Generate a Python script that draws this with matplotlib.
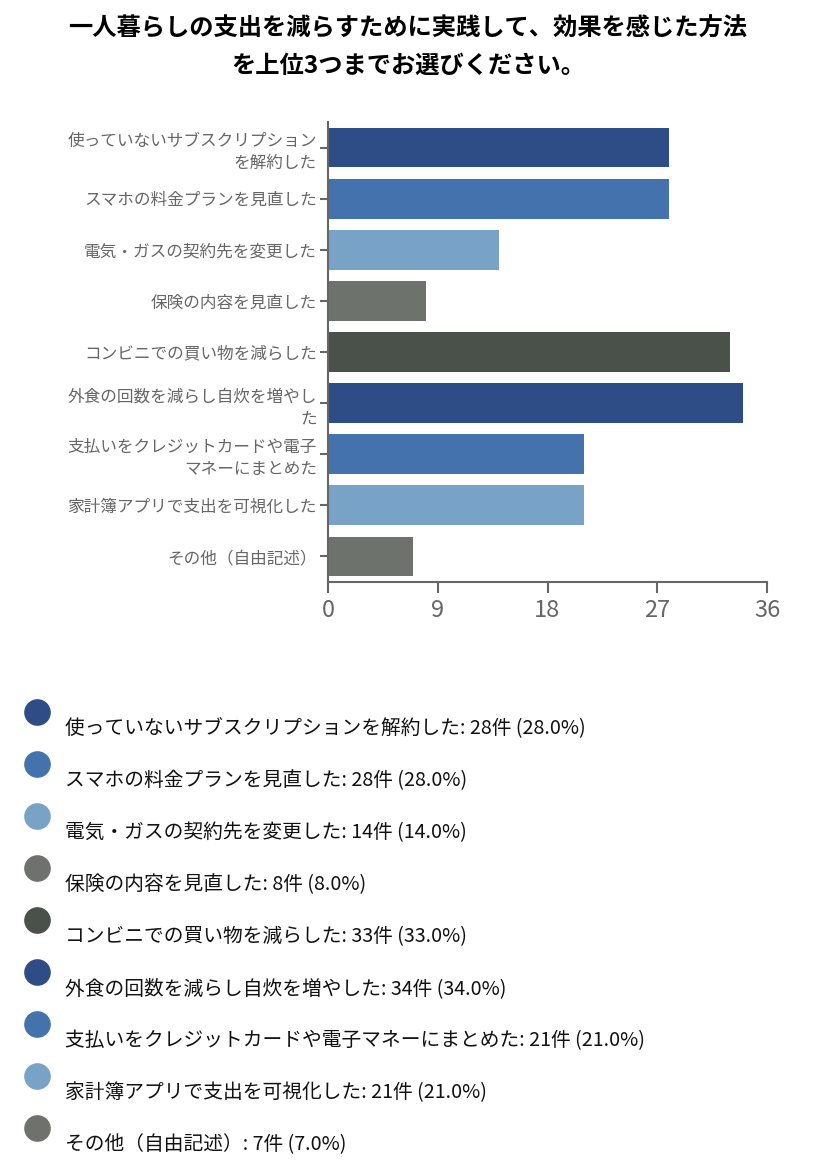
import matplotlib.pyplot as plt

plt.rcParams['font.family'] = ['Noto Sans CJK JP', 'DejaVu Sans']

title = "一人暮らしの支出を減らすために実践して、効果を感じた方法\nを上位3つまでお選びください。"

categories = [
    "使っていないサブスクリプションを解約した",
    "スマホの料金プランを見直した",
    "電気・ガスの契約先を変更した",
    "保険の内容を見直した",
    "コンビニでの買い物を減らした",
    "外食の回数を減らし自炊を増やした",
    "支払いをクレジットカードや電子マネーにまとめた",
    "家計簿アプリで支出を可視化した",
    "その他（自由記述）",
]
counts = [28, 28, 14, 8, 33, 34, 21, 21, 7]
total = 100
xticks = [0, 9, 18, 27, 36]
palette = ["#2e4d87", "#4472ad", "#78a2c6", "#6d726d", "#4a504a"]

colors = [palette[i % len(palette)] for i in range(len(categories))]


def wrap(s, n=15):
    return "\n".join(s[i:i + n] for i in range(0, len(s), n))


fig = plt.figure(figsize=(8.16, 11.69), dpi=100)
fig.text(0.5, 1 - 47 / 1169, title, ha="center", va="center",
         fontsize=17.5, fontweight="bold", linespacing=1.7)

ax = fig.add_axes([328 / 816, 1 - 582 / 1169, (767 - 328) / 816, (582 - 122) / 1169])
ypos = list(range(len(categories)))
ax.barh(ypos, counts, height=0.78, color=colors)
ax.set_ylim(len(categories) - 0.5, -0.5)
ax.set_xlim(0, 36)
ax.set_xticks(xticks)
ax.set_yticks(ypos)
ax.set_yticklabels([wrap(c) for c in categories], fontsize=12, color="#666666",
                   linespacing=1.4)
ax.tick_params(axis="y", length=6, width=1.5, color="#666666", pad=2)
ax.tick_params(axis="x", length=8, width=1.5, color="#666666", labelsize=17,
               labelcolor="#666666", pad=4)
for s in ["top", "right"]:
    ax.spines[s].set_visible(False)
for s in ["left", "bottom"]:
    ax.spines[s].set_color("#666666")
    ax.spines[s].set_linewidth(1.5)

leg = fig.add_axes([0, 0, 1, 1])
leg.set_xlim(0, 816)
leg.set_ylim(1169, 0)
leg.axis("off")
for i, (c, n) in enumerate(zip(categories, counts)):
    y = 725 + 52 * i
    leg.scatter([37], [y - 13], s=330, color=colors[i], zorder=3)
    leg.text(65, y + 4, f"{c}: {n}件 ({n / total * 100:.1f}%)", fontsize=14.2,
             va="center", ha="left", color="#111111")

fig.savefig("out.png", dpi=100)
